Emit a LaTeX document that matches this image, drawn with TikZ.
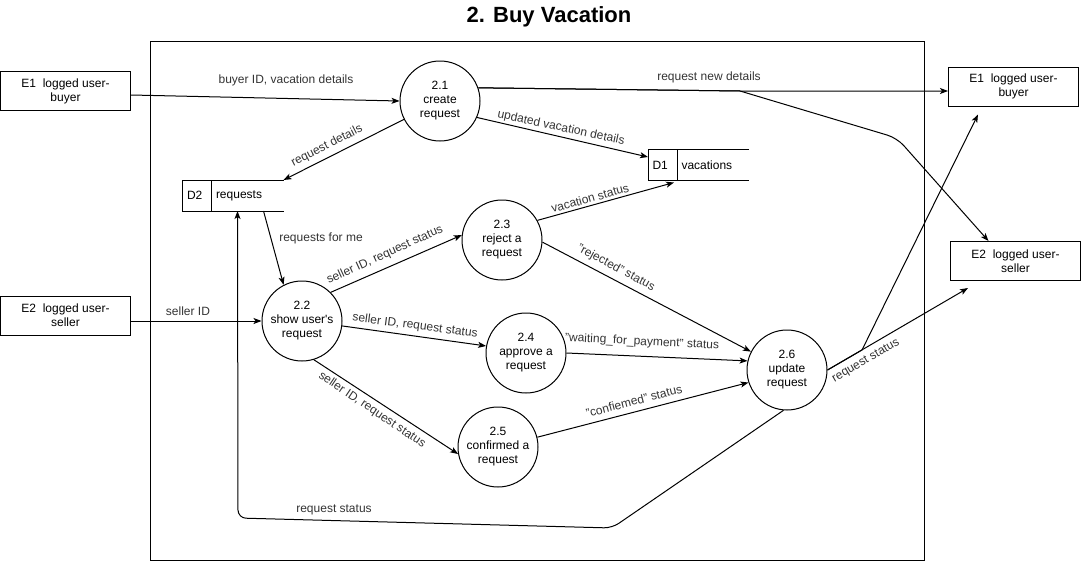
\documentclass[tikz,border=0pt]{standalone}
\usepackage{fontspec}
\setmainfont{Liberation Sans}
\usetikzlibrary{arrows.meta,calc}
\begin{document}
\begin{tikzpicture}[x=1pt,y=-1pt,
  line width=1pt,
  every node/.style={font=\fontsize{12}{14}\selectfont},
  proc/.style={circle,draw,minimum size=80pt,inner sep=0pt,align=center},
  ent/.style={rectangle,draw,minimum width=130pt,minimum height=39pt,inner sep=0pt,align=center},
  store/.style={rectangle,minimum width=100pt,minimum height=30pt,inner sep=0pt},
  stxt/.style={anchor=west,inner sep=0pt},
  flow/.style={-{Stealth[length=8pt,width=6pt,inset=2pt]}},
  lbl/.style={text=black!80,inner sep=0pt}]
\useasboundingbox (0,0) rectangle (1081,562);

% title and frame
\node[font=\bfseries\fontsize{22}{26}\selectfont] (title) at (549,17) {2. Buy Vacation};
\node[draw,minimum width=774pt,minimum height=519pt,inner sep=0pt] (frame) at (537,300.5) {};

% external entities
\node[ent] (E1L) at (65.5,91) {E1\ \ logged user-\\buyer};
\node[ent] (E2L) at (65.5,315.5) {E2\ \ logged user-\\seller};
\node[ent] (E1R) at (1013.5,86.5) {E1\ \ logged user-\\buyer};
\node[ent] (E2R) at (1015.5,261) {E2\ \ logged user-\\seller};

% processes
\node[proc] (c21) at (440,101) {2.1\\create\\request};
\node[proc] (c22) at (302,321) {2.2\\show user\textquotesingle s\\request};
\node[proc] (c23) at (502,240) {2.3\\reject a\\request};
\node[proc] (c24) at (526,353) {2.4\\approve a\\request};
\node[proc] (c25) at (498,447) {2.5\\confirmed a\\request};
\node[proc] (c26) at (787,370) {2.6\\update\\request};

% data stores
\node[store] (D2) at (233,195.5) {};
\draw (D2.north east) -- (D2.north west) -- (D2.south west) -- (D2.south east);
\draw ($(D2.north west)+(29,0)$) -- ($(D2.south west)+(29,0)$);
\node[stxt] (D2id) at ($(D2.west)+(4,0)$) {D2};
\node[stxt] (D2nm) at ($(D2.west)+(33,0)$) {requests};

\node[store] (D1) at (698.5,165) {};
\draw (D1.north east) -- (D1.north west) -- (D1.south west) -- (D1.south east);
\draw ($(D1.north west)+(29,0)$) -- ($(D1.south west)+(29,0)$);
\node[stxt] (D1id) at ($(D1.west)+(4,0)$) {D1};
\node[stxt] (D1nm) at ($(D1.west)+(33,0)$) {vacations};

% waypoints
\coordinate (w21) at (740,91);
\coordinate (w21b) at (897,138);
\coordinate (w26) at (862,350);
\coordinate (wb1) at (612,528);
\coordinate (wb2) at (238,518);

% flows
\draw[flow] ($(E1L.east)+(0,4)$) -- (c21.west);
\draw[flow] (c21.207) -- (D2.north east);
\draw[flow] (c21.-24) -- ($(D1.west)+(0,-8)$);
\draw[flow] (c21.19) -- (w21) -- ($(E1R.west)+(0,4.5)$);
\draw[flow] (c21.19) -- (w21) [rounded corners=10pt] -- (w21b) -- ($(E2R.north)+(-27,0)$);
\draw[flow] ($(D2.south west)+(81,0)$) -- (c22.117);
\draw[flow] ($(E2L.east)+(0,5.5)$) -- (c22.west);
\draw[flow] (c22.45) -- (c23.173);
\draw[flow] (c22.-7) -- (c24.170);
\draw[flow] (c22.-73) -- (c25.190);
\draw[flow] (c23.29) -- ($(D1.south west)+(26,2)$);
\draw[flow] (c23.-3) -- (c26.153);
\draw[flow] (c24.0) -- (c26.167);
\draw[flow] (c25.14) -- (c26.198);
\draw[flow] (c26.east) -- ($(E2R.south west)+(18,7)$);
\draw[flow] (c26.east) -- (w26) -- ($(E1R.south west)+(30,8)$);
\draw[flow,rounded corners=8pt] (c26.-95) -- (wb1) -- (wb2) -- ($(D2.south west)+(55,0)$);

% labels
\node[lbl] (l1) at (286,80) {buyer ID, vacation details};
\node[lbl,rotate=27] (l2) at (327,146) {request details};
\node[lbl,rotate=-12] (l3) at (561,128) {updated vacation details};
\node[lbl] (l4) at (709,77) {request new details};
\node[lbl] (l5) at (321,238) {requests for me};
\node[lbl] (l6) at (188,311) {seller ID};
\node[lbl,rotate=24.5] (l7) at (385,255) {seller ID, request status};
\node[lbl,rotate=-7.5] (l8) at (415,326) {seller ID, request status};
\node[lbl,rotate=-34] (l9) at (372,410) {seller ID, request status};
\node[lbl,rotate=15.5] (l10) at (590,198) {vacation status};
\node[lbl,rotate=-28] (l11) at (616,268) {"rejected" status};
\node[lbl,rotate=-3] (l12) at (642,342) {"waiting\_for\_payment" status};
\node[lbl,rotate=14.5] (l13) at (634,401) {"confiemed" status};
\node[lbl,rotate=30] (l14) at (866,361) {request status};
\node[lbl] (l15) at (334,510) {request status};
\end{tikzpicture}
\end{document}
